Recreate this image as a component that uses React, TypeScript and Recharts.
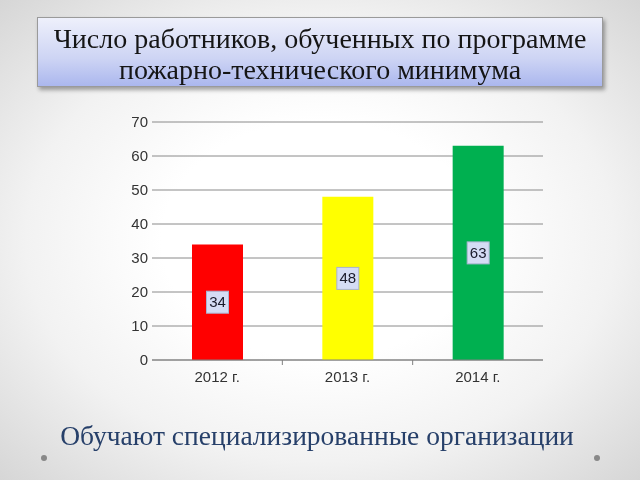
import React from 'react';
import { BarChart, Bar, XAxis, YAxis, CartesianGrid, Cell, LabelList } from 'recharts';

const years = ['2012 г.', '2013 г.', '2014 г.'];
const trained = [34, 48, 63];
const barColors = ['#ff0000', '#ffff00', '#00b050'];
const yTicks = [0, 10, 20, 30, 40, 50, 60, 70];

const chartData = years.map((year, i) => ({ year, value: trained[i] }));

const CHART_W = 460;
const MARGIN_L = 12;
const Y_W = 40;
const MARGIN_R = 17;
const band = (CHART_W - MARGIN_L - Y_W - MARGIN_R) / years.length;

const ValueLabel = (props: any) => {
  const { x, y, width, height, value } = props;
  const cx = x + width / 2;
  const cy = y + height / 2;
  return (
    <g>
      <rect x={cx - 11} y={cy - 11} width={22} height={22} fill="#d5dcf4" stroke="#a9b3d0" strokeWidth={1} />
      <text x={cx} y={cy + 5} textAnchor="middle" fontSize={15} fill="#1a1a2a" fontFamily="Arial, 'Liberation Sans', sans-serif">
        {value}
      </text>
    </g>
  );
};

const YearTick = (props: any) => {
  const { x, y, payload, index } = props;
  return (
    <g>
      {index < years.length - 1 && (
        <line x1={x + band / 2} y1={y - 8} x2={x + band / 2} y2={y - 3} stroke="#808080" />
      )}
      <text x={x} y={y + 14} textAnchor="middle" fontSize={15} fill="#333" fontFamily="Arial, 'Liberation Sans', sans-serif">
        {payload.value}
      </text>
    </g>
  );
};

export default function App() {
  return (
    <div
      style={{
        position: 'fixed',
        left: 0,
        top: 0,
        width: 640,
        height: 480,
        overflow: 'hidden',
        background: 'radial-gradient(ellipse at 50% 50%, #ffffff 35%, #f2f2f2 65%, #d6d6d6 100%)',
      }}
    >
      <div
        style={{
          position: 'absolute',
          left: 37,
          top: 17,
          width: 566,
          height: 70,
          boxSizing: 'border-box',
          border: '1px solid #9a9a9a',
          background: 'linear-gradient(to bottom, #eef0fb 0%, #cdd4f4 60%, #abb7ee 100%)',
          boxShadow: '2px 3px 4px rgba(0,0,0,0.35)',
          fontFamily: "'Liberation Serif', 'DejaVu Serif', serif",
          fontSize: 28,
          lineHeight: '31px',
          color: '#151515',
          textAlign: 'center',
          paddingTop: 5,
        }}
      >
        Число работников, обученных по программе
        <br />
        пожарно-технического минимума
      </div>

      <div style={{ position: 'absolute', left: 100, top: 110 }}>
        <BarChart width={CHART_W} height={280} data={chartData} margin={{ top: 12, right: MARGIN_R, bottom: 0, left: MARGIN_L }}>
          <CartesianGrid vertical={false} stroke="#8a8a8a" />
          <XAxis
            dataKey="year"
            height={30}
            axisLine={{ stroke: '#808080' }}
            tickLine={false}
            tick={<YearTick />}
          />
          <YAxis
            width={Y_W}
            domain={[0, 70]}
            ticks={yTicks}
            axisLine={false}
            tickLine={false}
            tickSize={2}
            tick={{ fontSize: 15, fill: '#333', fontFamily: "Arial, 'Liberation Sans', sans-serif" }}
          />
          <Bar dataKey="value" barSize={51} isAnimationActive={false}>
            {chartData.map((d, i) => (
              <Cell key={d.year} fill={barColors[i]} />
            ))}
            <LabelList dataKey="value" content={<ValueLabel />} />
          </Bar>
        </BarChart>
      </div>

      <div
        style={{
          position: 'absolute',
          left: 0,
          top: 420,
          width: 634,
          textAlign: 'center',
          fontFamily: "'Liberation Serif', 'DejaVu Serif', serif",
          fontSize: 27.5,
          color: '#27406a',
        }}
      >
        Обучают специализированные организации
      </div>
      <div style={{ position: 'absolute', left: 41, top: 455, width: 6, height: 6, borderRadius: 3, background: '#888' }} />
      <div style={{ position: 'absolute', left: 594, top: 455, width: 6, height: 6, borderRadius: 3, background: '#888' }} />
    </div>
  );
}
